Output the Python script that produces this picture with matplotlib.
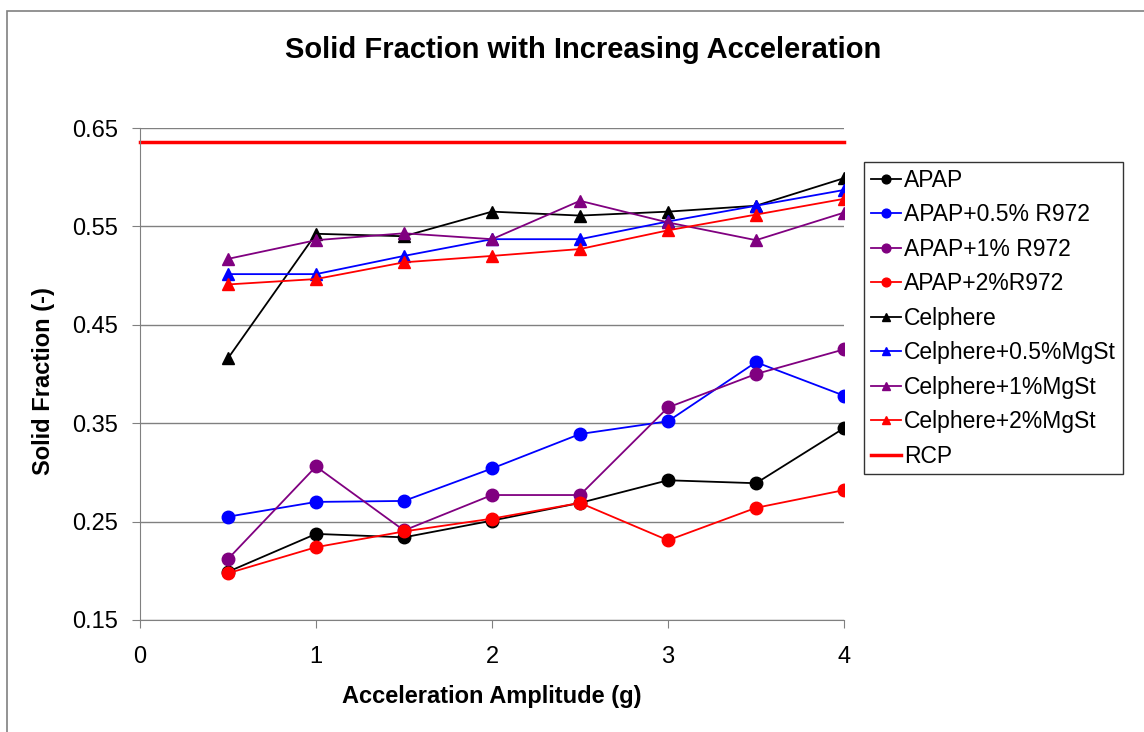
import matplotlib
matplotlib.use("Agg")
import matplotlib.pyplot as plt
from matplotlib.patches import Rectangle

plt.rcParams['font.family'] = ['Liberation Sans', 'DejaVu Sans']

accel = [0.5, 1, 1.5, 2, 2.5, 3, 3.5, 4]

apap = [0.199, 0.2375, 0.234, 0.251, 0.269, 0.292, 0.289, 0.345]
apap_05 = [0.255, 0.270, 0.271, 0.304, 0.339, 0.352, 0.412, 0.378]
apap_1 = [0.212, 0.306, 0.241, 0.277, 0.277, 0.366, 0.400, 0.425]
apap_2 = [0.1975, 0.224, 0.240, 0.253, 0.269, 0.231, 0.264, 0.282]

celphere = [0.416, 0.5425, 0.540, 0.565, 0.561, 0.565, 0.571, 0.599]
celphere_05 = [0.5015, 0.5015, 0.520, 0.537, 0.537, 0.555, 0.571, 0.587]
celphere_1 = [0.517, 0.536, 0.543, 0.537, 0.576, 0.554, 0.536, 0.564]
celphere_2 = [0.491, 0.4965, 0.5135, 0.520, 0.527, 0.546, 0.562, 0.578]

rcp_x = [0, 4]
rcp_y = [0.636, 0.636]

series = [
    ("APAP", apap, "black", "o"),
    ("APAP+0.5% R972", apap_05, "#0000FF", "o"),
    ("APAP+1% R972", apap_1, "#800080", "o"),
    ("APAP+2%R972", apap_2, "#FF0000", "o"),
    ("Celphere", celphere, "black", "^"),
    ("Celphere+0.5%MgSt", celphere_05, "#0000FF", "^"),
    ("Celphere+1%MgSt", celphere_1, "#800080", "^"),
    ("Celphere+2%MgSt", celphere_2, "#FF0000", "^"),
]

fig = plt.figure(figsize=(11.44, 7.32), dpi=100)
ax = fig.add_axes([140/1144, 1-620/732, (844-140)/1144, (620-128)/732])

# outer chart border
fig.patches.append(Rectangle((7/1144, -0.1), 1.2, 1-11/732+0.1, transform=fig.transFigure,
                             fill=False, edgecolor="#808080", lw=1.2))

for name, vals, col, mk in series:
    ax.plot(accel, vals, color=col, marker=mk, lw=1.3,
            markersize=9 if mk == "o" else 8, label=name)
ax.plot(rcp_x, rcp_y, color="#FF0000", lw=2.5, label="RCP", clip_on=False)

ax.set_xlim(0, 4)
ax.set_ylim(0.15, 0.65)
ax.set_xticks([0, 1, 2, 3, 4])
ax.set_yticks([0.15, 0.25, 0.35, 0.45, 0.55, 0.65])
ax.set_yticklabels(["0.15", "0.25", "0.35", "0.45", "0.55", "0.65"])
ax.grid(axis="y", color="#808080", lw=1)
ax.set_axisbelow(True)
for s in ["top", "right"]:
    ax.spines[s].set_visible(False)
for s in ["left", "bottom"]:
    ax.spines[s].set_color("#808080")
ax.tick_params(direction="out", length=6, color="#808080", labelsize=17)
ax.tick_params(axis="x", pad=13)
ax.tick_params(axis="y", pad=10)

fig.text(583/1144, 1-50/732, "Solid Fraction with Increasing Acceleration",
         fontsize=21, fontweight="bold", ha="center", va="center")
ax.set_xlabel("Acceleration Amplitude (g)", fontsize=17, fontweight="bold", va="center")
ax.xaxis.set_label_coords(0.5, (620-697)/492)
ax.set_ylabel("Solid Fraction (-)", fontsize=17, fontweight="bold", va="center")
ax.yaxis.set_label_coords((44-140)/704, (620-381)/492)

leg = ax.legend(loc="upper left", bbox_to_anchor=(864/1144, 1-162/732),
                bbox_transform=fig.transFigure, fontsize=16.5, frameon=True,
                fancybox=False, edgecolor="black", borderaxespad=0,
                handlelength=1.3, handletextpad=0.15, labelspacing=0.5,
                borderpad=0.3, markerscale=0.7)
leg.get_frame().set_linewidth(1)

fig.savefig("out.png", dpi=100)
